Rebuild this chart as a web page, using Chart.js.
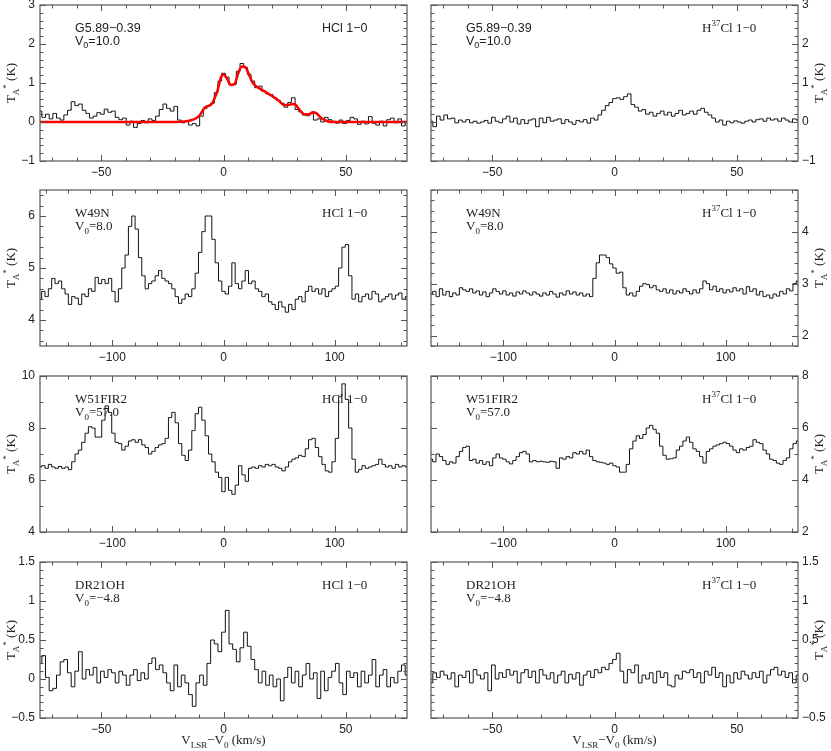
<!DOCTYPE html>
<html>
<head>
<meta charset="utf-8">
<script src="https://cdn.jsdelivr.net/npm/chart.js@4/dist/chart.umd.min.js"></script>
<style>
  body { margin: 0; background: #fff; }
  #wrap { position: relative; width: 831px; height: 751px; }
  #wrap canvas { position: absolute; }
</style>
</head>
<body>
<div id="wrap"></div>
<script>
// velocity grids (channel start + width, km/s)
const narrowStart = -75, narrowStep = 1.5
const wideStart = -165, wideStep = 3

// tick labels
const xTicksNarrow = [-50, 0, 50]
const xTicksWide = [-100, 0, 100]
const yTicksG5 = [-1, 0, 1, 2, 3]
const yTicksW49HCl = [4, 5, 6]
const yTicksW49H37 = [2, 3, 4]
const yTicksW51HCl = [4, 6, 8, 10]
const yTicksW51H37 = [2, 4, 6, 8]
const yTicksDR21 = [-0.5, 0, 0.5, 1, 1.5]

// G5.89-0.39, HCl 1-0 (T_A*, K)
const g5HCl = [
  0.28, 0.12, 0.2, 0.08, 0.22, 0.1, 0.05, 0.18, 0.3, 0.52,
  0.42, 0.46, 0.3, 0.22, 0.1, 0.15, 0.24, 0.2, 0.33, 0.25,
  0.28, 0.12, 0.06, 0.1, -0.08, 0.02, -0.14, -0.04, 0.04, -0.02,
  0.08, 0.04, 0.15, 0.32, 0.46, 0.35, 0.28, 0.4, 0.05, -0.02,
  0.02, -0.08, -0.04, -0.1, 0.15, 0.35, 0.42, 0.48, 0.75, 1.05,
  1.25, 1.15, 0.95, 0.97, 1.3, 1.5, 1.4, 1.22, 1.05, 0.88,
  0.92, 0.78, 0.72, 0.7, 0.62, 0.55, 0.48, 0.38, 0.5, 0.62,
  0.32, 0.26, 0.18, 0.16, 0.22, 0.05, 0.08, 0.0, 0.12, 0.06,
  0.02, -0.03, 0.05, -0.04, 0.04, 0.12, 0.08, -0.06, 0.02, -0.05,
  0.14, -0.03, -0.08, 0.02, -0.1, 0.06, 0.1, -0.02, 0.08, -0.1,
  0.0
]
// gaussian fit to G5.89 HCl
const fitV = [-75, -20, -15, -12.5, -10, -7.5, -5, -2.5, -1, 0, 1.5, 3, 4.5, 6, 7.5, 9, 10.5, 12, 15, 17.5, 20, 22.5, 25, 27.5, 29, 31, 33, 35, 36.5, 38, 40, 42.5, 45, 75]
const fitT = [0, 0, 0.02, 0.06, 0.15, 0.38, 0.45, 0.8, 1.15, 1.22, 1.1, 0.95, 0.97, 1.25, 1.42, 1.4, 1.2, 1.0, 0.85, 0.76, 0.66, 0.55, 0.43, 0.45, 0.46, 0.32, 0.2, 0.2, 0.25, 0.22, 0.1, 0.02, 0, 0]

// G5.89-0.39, H37Cl 1-0
const g5H37Cl = [
  0.02, -0.12, 0.15, 0.05, 0.18, 0.08, 0.1, -0.02, 0.05, 0.0,
  0.06, -0.02, 0.02, -0.03, 0.0, 0.04, -0.03, 0.12, 0.02, -0.02,
  0.08, 0.15, 0.0, 0.1, -0.05, 0.06, -0.04, 0.05, 0.08, -0.12,
  0.1, -0.02, 0.12, 0.02, 0.05, 0.08, -0.04, 0.06, 0.0, -0.06,
  0.04, 0.0, 0.06, -0.03, 0.1, 0.05, 0.18, 0.3, 0.42, 0.5,
  0.6, 0.62, 0.58, 0.65, 0.72, 0.45, 0.38, 0.28, 0.32, 0.2,
  0.25, 0.15, 0.22, 0.28, 0.18, 0.25, 0.15, 0.22, 0.3, 0.18,
  0.22, 0.28, 0.2, 0.3, 0.35, 0.25, 0.18, 0.1, 0.0, 0.05,
  -0.08, 0.02, -0.02, 0.03, 0.0, -0.03, 0.02, 0.05, 0.0, 0.06,
  0.08, 0.02, 0.1, 0.05, 0.08, 0.02, 0.1, 0.05, 0.0, 0.08,
  0.05
]

// W49N, HCl 1-0
const w49nHCl = [
  4.4, 4.55, 4.45, 4.6, 4.8, 4.7, 4.75, 4.6, 4.5, 4.3,
  4.45, 4.42, 4.3, 4.5, 4.45, 4.6, 4.55, 4.82, 4.7, 4.78,
  4.7, 4.8, 4.55, 4.35, 4.6, 5.0, 5.25, 5.8, 6.0, 5.75,
  5.2, 4.85, 4.6, 4.7, 4.75, 4.85, 4.95, 4.8, 4.75, 4.7,
  4.6, 4.45, 4.32, 4.4, 4.5, 4.45, 4.6, 4.9, 5.3, 5.7,
  6.0, 6.0, 5.55, 5.1, 4.75, 4.55, 4.5, 4.65, 5.1, 4.7,
  4.6, 4.75, 4.95, 4.7, 4.75, 4.6, 4.55, 4.45, 4.5, 4.35,
  4.3, 4.2, 4.35, 4.25, 4.15, 4.3, 4.2, 4.4, 4.45, 4.35,
  4.55, 4.65, 4.55, 4.6, 4.5, 4.6, 4.45, 4.55, 4.6, 4.65,
  5.0, 5.4, 5.45, 4.85, 4.4, 4.5, 4.35, 4.45, 4.5, 4.4,
  4.55, 4.5, 4.35, 4.4, 4.45, 4.5, 4.4, 4.48, 4.52, 4.4,
  4.45
]

// W49N, H37Cl 1-0
const w49nH37Cl = [
  2.8, 2.85, 2.75, 2.9, 2.78, 2.85, 2.75, 2.82, 2.78, 2.92,
  2.88, 2.85, 2.9, 2.82, 2.86, 2.78, 2.84, 2.75, 2.82, 2.9,
  2.85, 2.8, 2.86, 2.78, 2.82, 2.76, 2.84, 2.8, 2.86, 2.82,
  2.78, 2.84, 2.8, 2.76, 2.82, 2.78, 2.85, 2.8, 2.74, 2.82,
  2.78, 2.86, 2.8, 2.84, 2.78, 2.82, 2.76, 2.8, 2.75, 3.1,
  3.4, 3.55, 3.55, 3.5, 3.38, 3.3, 3.2, 3.22, 2.92, 2.78,
  2.82, 2.76, 2.85, 2.95, 3.0, 2.98, 2.92, 2.96, 2.88, 2.85,
  2.9, 2.82, 2.88, 2.8, 2.86, 2.82, 2.9, 2.85, 2.8, 2.88,
  2.82, 2.9, 3.05, 3.0, 2.88, 2.95, 2.85, 2.9, 2.82, 2.88,
  2.84, 2.92, 2.86, 2.9, 2.8, 2.94, 2.85, 2.9, 2.78, 2.85,
  2.75, 2.78, 2.72, 2.8, 2.76, 2.85, 2.8, 2.9, 2.86, 3.0,
  3.05
]

// W51FIR2, HCl 1-0
const w51HCl = [
  6.5, 6.55, 6.45, 6.6, 6.5, 6.45, 6.52, 6.45, 6.5, 6.4,
  6.7, 7.0, 7.15, 7.45, 7.8, 8.05, 8.0, 7.65, 7.65, 8.3,
  8.85, 8.6, 7.8, 7.45, 7.4, 7.15, 7.3, 7.5, 7.55, 7.45,
  7.55, 7.35, 7.25, 7.0, 7.1, 7.25, 7.35, 7.4, 7.6, 8.4,
  8.6, 8.2, 7.4, 6.95, 6.75, 7.15, 7.9, 8.55, 8.8, 8.3,
  7.7, 7.0, 6.7, 6.3, 6.1, 5.55, 6.1, 5.6, 5.45, 5.8,
  6.55, 6.2, 5.95, 6.45, 6.5, 6.45, 6.55, 6.5, 6.6, 6.55,
  6.6, 6.5, 6.45, 6.35, 6.5, 6.7, 6.8, 6.85, 6.95, 6.9,
  7.2, 7.55, 7.6, 7.25, 6.9, 6.6, 6.35, 6.3, 6.7, 7.6,
  9.2, 9.7, 9.1, 8.0, 6.8, 6.3, 6.4, 6.55, 6.45, 6.5,
  6.55, 6.6, 6.8, 6.6, 6.5, 6.55, 6.45, 6.6, 6.5, 6.55,
  6.5
]

// W51FIR2, H37Cl 1-0
const w51H37Cl = [
  4.8, 4.7, 5.0, 4.9, 4.75, 4.6, 4.7, 4.65, 4.9, 5.1,
  5.25, 5.3, 4.75, 4.8, 4.65, 4.75, 4.6, 4.7, 4.55, 4.85,
  5.0, 4.85, 4.8, 4.7, 4.62, 4.75, 4.9, 5.05, 5.1, 5.0,
  4.7, 4.75, 4.7, 4.72, 4.7, 4.68, 4.72, 4.7, 4.45, 4.85,
  4.8, 4.9, 4.85, 5.05, 5.0, 5.1, 5.0, 5.15, 4.9, 4.75,
  4.7, 4.68, 4.65, 4.6, 4.65, 4.55, 4.5, 4.3, 4.3, 4.6,
  5.2, 5.5, 5.7, 5.6, 5.75, 6.0, 6.1, 5.95, 5.8, 5.3,
  4.95, 4.8, 4.82, 4.85, 5.15, 5.3, 5.5, 5.65, 5.45, 5.2,
  5.1, 4.9, 4.65, 5.1, 5.2, 5.3, 5.35, 5.4, 5.45, 5.4,
  5.3, 5.15, 5.05, 5.2, 5.15, 5.25, 5.3, 5.55, 5.45, 5.4,
  5.15, 5.0, 4.8, 4.75, 4.65, 4.6, 4.75, 4.85, 5.2, 5.4,
  5.5
]

// DR21OH, HCl 1-0
const dr21HCl = [
  0.2, 0.3, 0.02, -0.15, -0.12, 0.05, 0.22, 0.25, 0.08, -0.1,
  0.1, 0.35, 0.0, 0.12, 0.05, 0.15, -0.05, 0.1, 0.02, 0.12,
  0.08, -0.05, 0.1, 0.05, -0.08, 0.05, 0.12, -0.02, 0.08, 0.0,
  0.2, 0.27, 0.12, 0.18, 0.08, -0.05, -0.15, 0.18, -0.1, 0.05,
  -0.05, -0.2, -0.35, -0.05, 0.05, -0.08, 0.2, 0.5, 0.45, 0.35,
  0.6, 0.88, 0.45, 0.38, 0.22, 0.4, 0.6, 0.42, 0.25, 0.12,
  -0.05, 0.1, -0.08, 0.05, -0.1, 0.0, -0.28, 0.02, 0.15, -0.05,
  0.1, -0.1, 0.05, 0.2, 0.0, 0.08, -0.25, 0.1, -0.15, 0.02,
  0.1, 0.2, -0.05, -0.2, 0.1, 0.02, 0.08, -0.1, 0.1, -0.05,
  0.05, 0.25, -0.1, 0.05, 0.12, -0.1, 0.02, -0.05, 0.1, 0.18,
  0.05
]

// DR21OH, H37Cl 1-0
const dr21H37Cl = [
  -0.05, 0.08, 0.02, 0.1, 0.05, 0.0, 0.08, -0.1, 0.05, 0.02,
  0.1, -0.05, 0.12, 0.05, 0.0, 0.08, -0.15, 0.18, 0.0, 0.08,
  0.02, 0.12, 0.05, 0.1, -0.05, 0.08, 0.12, 0.02, 0.1, -0.05,
  0.12, 0.05, 0.0, 0.08, -0.05, 0.05, 0.1, -0.05, 0.06, 0.0,
  0.08, -0.08, 0.05, 0.1, 0.02, 0.12, 0.08, 0.15, 0.12, 0.2,
  0.25, 0.33, 0.1, -0.05, 0.12, 0.08, 0.18, -0.05, 0.05, 0.0,
  0.08, -0.05, 0.1, 0.02, 0.08, -0.08, -0.1, 0.05, 0.0, 0.1,
  0.08, 0.12, 0.02, 0.08, -0.05, 0.1, 0.05, 0.15, 0.02, 0.08,
  -0.1, 0.05, -0.05, 0.08, 0.0, 0.1, 0.05, 0.0, 0.08, 0.02,
  0.1, -0.05, 0.05, 0.12, 0.15, 0.05, 0.1, 0.02, 0.08, -0.05,
  0.05
]

const SANS = '"Liberation Sans", Arial, sans-serif'
const SERIF = '"Liberation Serif", "Times New Roman", serif'

const toPoints = (vals, start, step) => vals.map((t, i) => ({ x: start + i * step, y: t }))

/**
 * draw text with sub (-1) / super (1) scripts, returns width
 */
function richText(ctx, parts, x, y, size, family, measureOnly) {
  let cx = x
  for (const [t, m] of parts) {
    const fs = m ? Math.round(size * 0.72) : size
    ctx.font = fs + 'px ' + family
    if (!measureOnly) ctx.fillText(t, cx, y + (m < 0 ? size * 0.32 : m > 0 ? -size * 0.42 : 0))
    cx += ctx.measureText(t).width
  }
  return cx - x
}

const taTitle = [['T', 0], ['A', -1], ['*', 1], [' (K)', 0]]
const vTitle = [['V', 0], ['LSR', -1], ['\u2212V', 0], ['0', -1], [' (km/s)', 0]]

// inward ticks on all four sides + frame + labels
const frameTicks = {
  id: 'frameTicks',
  afterDraw(chart, args, o) {
    const { ctx, chartArea: a } = chart
    const xs = chart.scales.x, ys = chart.scales.y
    ctx.save()
    ctx.strokeStyle = '#555'
    ctx.lineWidth = 1.2
    ctx.strokeRect(a.left, a.top, a.right - a.left, a.bottom - a.top)
    ctx.lineWidth = 1
    ctx.beginPath()
    const k0x = Math.ceil(xs.min / o.xMinor - 1e-6), k1x = Math.floor(xs.max / o.xMinor + 1e-6)
    for (let k = k0x; k <= k1x; k++) {
      const v = k * o.xMinor
      const major = Math.abs(v / o.xMajor - Math.round(v / o.xMajor)) < 1e-6
      const len = major ? 6 : 3.5
      const px = Math.round(xs.getPixelForValue(v)) + 0.5
      ctx.moveTo(px, a.bottom); ctx.lineTo(px, a.bottom - len)
      ctx.moveTo(px, a.top); ctx.lineTo(px, a.top + len)
    }
    const k0y = Math.ceil(ys.min / o.yMinor - 1e-6), k1y = Math.floor(ys.max / o.yMinor + 1e-6)
    for (let k = k0y; k <= k1y; k++) {
      const v = k * o.yMinor
      const major = Math.abs(v / o.yMajor - Math.round(v / o.yMajor)) < 1e-6
      const len = major ? 6 : 3.5
      const py = Math.round(ys.getPixelForValue(v)) + 0.5
      ctx.moveTo(a.left, py); ctx.lineTo(a.left + len, py)
      ctx.moveTo(a.right, py); ctx.lineTo(a.right - len, py)
    }
    ctx.stroke()

    // source, V0 and line labels
    ctx.fillStyle = '#222'
    ctx.textBaseline = 'middle'
    const fam = o.sansLabels ? SANS : SERIF
    const fs = o.sansLabels ? 12.5 : 13
    richText(ctx, [[o.source, 0]], a.left + 35, a.top + 24, fs, fam)
    richText(ctx, [['V', 0], ['0', -1], ['=' + o.vsys, 0]], a.left + 35, a.top + 37, fs, fam)
    if (o.iso) richText(ctx, [['H', 0], ['37', 1], ['Cl 1\u22120', 0]], a.left + 271, a.top + 24, 13, SERIF)
    else richText(ctx, [['HCl 1\u22120', 0]], a.left + 282, a.top + 24, fs, fam)

    // y title, rotated
    const tx = o.right ? a.right + 22 : a.left - 28
    const ty = (a.top + a.bottom) / 2
    ctx.save()
    ctx.translate(tx, ty)
    ctx.rotate(-Math.PI / 2)
    const w = richText(ctx, taTitle, 0, 0, 13, SERIF, true)
    richText(ctx, taTitle, -w / 2, 0, 13, SERIF)
    ctx.restore()

    if (o.xTitle) {
      const w2 = richText(ctx, vTitle, 0, 0, 13, SERIF, true)
      richText(ctx, vTitle, (a.left + a.right) / 2 - w2 / 2, a.bottom + 23, 13, SERIF)
    }
    ctx.restore()
  }
}

const rowTops = [5, 190, 376, 562]
const panelH = 156

const panels = [
  { row: 0, right: false, data: g5HCl, start: narrowStart, step: narrowStep, x: [-75, 75], y: [-1, 3], xt: xTicksNarrow, yt: yTicksG5, xMinor: 10, xMajor: 50, yMinor: 0.2, yMajor: 1, source: 'G5.89\u22120.39', vsys: '10.0', sansLabels: true, fit: true },
  { row: 0, right: true, data: g5H37Cl, start: narrowStart, step: narrowStep, x: [-75, 75], y: [-1, 3], xt: xTicksNarrow, yt: yTicksG5, xMinor: 10, xMajor: 50, yMinor: 0.2, yMajor: 1, source: 'G5.89\u22120.39', vsys: '10.0', sansLabels: true, iso: true },
  { row: 1, right: false, data: w49nHCl, start: wideStart, step: wideStep, x: [-165, 165], y: [3.5, 6.5], xt: xTicksWide, yt: yTicksW49HCl, xMinor: 20, xMajor: 100, yMinor: 0.2, yMajor: 1, source: 'W49N', vsys: '8.0' },
  { row: 1, right: true, data: w49nH37Cl, start: wideStart, step: wideStep, x: [-165, 165], y: [1.8, 4.8], xt: xTicksWide, yt: yTicksW49H37, xMinor: 20, xMajor: 100, yMinor: 0.2, yMajor: 1, source: 'W49N', vsys: '8.0', iso: true },
  { row: 2, right: false, data: w51HCl, start: wideStart, step: wideStep, x: [-165, 165], y: [4, 10], xt: xTicksWide, yt: yTicksW51HCl, xMinor: 20, xMajor: 100, yMinor: 1, yMajor: 2, source: 'W51FIR2', vsys: '57.0' },
  { row: 2, right: true, data: w51H37Cl, start: wideStart, step: wideStep, x: [-165, 165], y: [2, 8], xt: xTicksWide, yt: yTicksW51H37, xMinor: 20, xMajor: 100, yMinor: 1, yMajor: 2, source: 'W51FIR2', vsys: '57.0', iso: true },
  { row: 3, right: false, data: dr21HCl, start: narrowStart, step: narrowStep, x: [-75, 75], y: [-0.5, 1.5], xt: xTicksNarrow, yt: yTicksDR21, xMinor: 10, xMajor: 50, yMinor: 0.1, yMajor: 0.5, source: 'DR21OH', vsys: '\u22124.8', xTitle: true },
  { row: 3, right: true, data: dr21H37Cl, start: narrowStart, step: narrowStep, x: [-75, 75], y: [-0.5, 1.5], xt: xTicksNarrow, yt: yTicksDR21, xMinor: 10, xMajor: 50, yMinor: 0.1, yMajor: 0.5, source: 'DR21OH', vsys: '\u22124.8', iso: true, xTitle: true }
]

const fmt = v => String(v).replace('-', '\u2212')
const wrap = document.getElementById('wrap')

for (const p of panels) {
  const canvas = document.createElement('canvas')
  const w = p.right ? 408 : 415
  const h = 6 + panelH + (p.xTitle ? 33 : 22)
  canvas.width = w
  canvas.height = h
  canvas.style.left = (p.right ? 423 : 0) + 'px'
  canvas.style.top = (rowTops[p.row] - 6) + 'px'
  wrap.appendChild(canvas)

  const datasets = [{
    data: toPoints(p.data, p.start, p.step),
    borderColor: '#111',
    borderWidth: 1,
    pointRadius: 0,
    stepped: 'middle',
    order: 1
  }]
  if (p.fit) {
    datasets.push({
      data: fitV.map((v, i) => ({ x: v, y: fitT[i] })),
      borderColor: '#ff0000',
      borderWidth: 2.5,
      pointRadius: 0,
      cubicInterpolationMode: 'monotone',
      order: 0
    })
  }

  new Chart(canvas.getContext('2d'), {
    type: 'line',
    data: { datasets },
    options: {
      responsive: false,
      animation: false,
      events: [],
      layout: { padding: { top: 6, bottom: 0, left: p.right ? 8 : 0, right: p.right ? 0 : 8 } },
      plugins: {
        legend: { display: false },
        tooltip: { enabled: false },
        frameTicks: p
      },
      scales: {
        x: {
          type: 'linear',
          min: p.x[0],
          max: p.x[1],
          grid: { display: false, drawTicks: false },
          border: { display: false },
          ticks: { font: { family: SANS, size: 12 }, color: '#222', padding: 4, maxRotation: 0, callback: fmt },
          afterBuildTicks: s => { s.ticks = p.xt.map(v => ({ value: v })) },
          afterFit: s => { s.height = p.xTitle ? 33 : 22; s.paddingLeft = 0; s.paddingRight = 0 }
        },
        y: {
          type: 'linear',
          position: p.right ? 'right' : 'left',
          min: p.y[0],
          max: p.y[1],
          grid: { display: false, drawTicks: false },
          border: { display: false },
          ticks: { font: { family: SANS, size: 12 }, color: '#222', padding: p.right ? 4 : 5, callback: fmt },
          afterBuildTicks: s => { s.ticks = p.yt.map(v => ({ value: v })) },
          afterFit: s => { s.width = p.right ? 33 : 40; s.paddingTop = 0; s.paddingBottom = 0 }
        }
      }
    },
    plugins: [frameTicks]
  })
}
</script>
</body>
</html>
